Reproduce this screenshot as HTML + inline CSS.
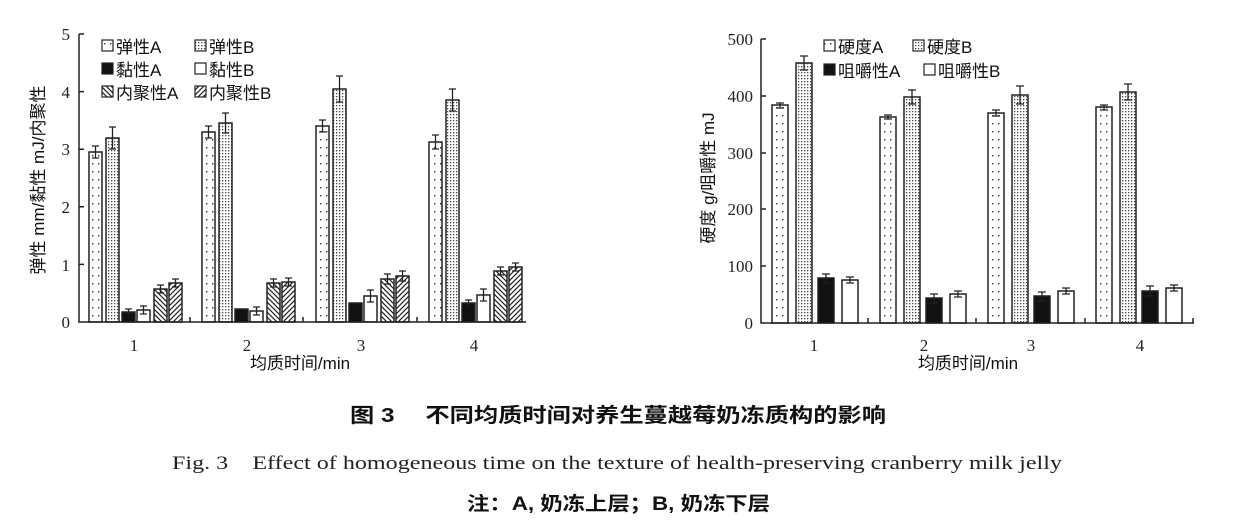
<!DOCTYPE html>
<html><head><meta charset="utf-8"><style>
body{margin:0;background:#fff;width:1242px;height:529px;overflow:hidden}
svg{display:block}
.t{font-family:"Liberation Serif","Noto Serif CJK SC",serif;fill:#222}
.c{font-family:"Liberation Sans","Noto Sans CJK SC",sans-serif;fill:#111}
</style></head><body>
<svg width="1242" height="529" viewBox="0 0 1242 529" xmlns="http://www.w3.org/2000/svg">
<defs>
<pattern id="sp" width="6" height="8" patternUnits="userSpaceOnUse"><rect width="6" height="8" fill="#fff"/><rect x="2" y="3" width="1.4" height="1.4" fill="#333"/></pattern>
<pattern id="dn" width="3" height="3" patternUnits="userSpaceOnUse"><rect width="3" height="3" fill="#fff"/><rect x="0" y="0" width="1.3" height="1.3" fill="#444"/></pattern>
<pattern id="hb" width="5" height="5" patternUnits="userSpaceOnUse"><rect width="5" height="5" fill="#fff"/><path d="M0,0L5,5M-1,4L1,6M4,-1L6,1" stroke="#222" stroke-width="1.2"/></pattern>
<pattern id="hf" width="5" height="5" patternUnits="userSpaceOnUse"><rect width="5" height="5" fill="#fff"/><path d="M0,5L5,0M-1,1L1,-1M4,6L6,4" stroke="#222" stroke-width="1.2"/></pattern>
</defs>
<g stroke="#222" stroke-width="1.5">
<rect x="89" y="152" width="13" height="170" fill="url(#sp)"/>
<rect x="106" y="138" width="13" height="184" fill="url(#dn)"/>
<rect x="122" y="312" width="13" height="10" fill="#111"/>
<rect x="137" y="310" width="13" height="12" fill="#fff"/>
<rect x="154" y="289" width="13" height="33" fill="url(#hb)"/>
<rect x="169" y="283" width="13" height="39" fill="url(#hf)"/>
<rect x="202" y="132" width="13" height="190" fill="url(#sp)"/>
<rect x="219" y="123" width="13" height="199" fill="url(#dn)"/>
<rect x="235" y="309" width="13" height="13" fill="#111"/>
<rect x="250" y="311" width="13" height="11" fill="#fff"/>
<rect x="267" y="283" width="13" height="39" fill="url(#hb)"/>
<rect x="282" y="282" width="13" height="40" fill="url(#hf)"/>
<rect x="316" y="126" width="13" height="196" fill="url(#sp)"/>
<rect x="333" y="89" width="13" height="233" fill="url(#dn)"/>
<rect x="349" y="303" width="13" height="19" fill="#111"/>
<rect x="364" y="296" width="13" height="26" fill="#fff"/>
<rect x="381" y="279" width="13" height="43" fill="url(#hb)"/>
<rect x="396" y="276" width="13" height="46" fill="url(#hf)"/>
<rect x="429" y="142" width="13" height="180" fill="url(#sp)"/>
<rect x="446" y="100" width="13" height="222" fill="url(#dn)"/>
<rect x="462" y="303" width="13" height="19" fill="#111"/>
<rect x="477" y="295" width="13" height="27" fill="#fff"/>
<rect x="494" y="271" width="13" height="51" fill="url(#hb)"/>
<rect x="509" y="267" width="13" height="55" fill="url(#hf)"/>
<rect x="772" y="105" width="16" height="218" fill="url(#sp)"/>
<rect x="796" y="63" width="16" height="260" fill="url(#dn)"/>
<rect x="818" y="278" width="16" height="45" fill="#111"/>
<rect x="842" y="280" width="16" height="43" fill="#fff"/>
<rect x="880" y="117" width="16" height="206" fill="url(#sp)"/>
<rect x="904" y="97" width="16" height="226" fill="url(#dn)"/>
<rect x="926" y="298" width="16" height="25" fill="#111"/>
<rect x="950" y="294" width="16" height="29" fill="#fff"/>
<rect x="988" y="113" width="16" height="210" fill="url(#sp)"/>
<rect x="1012" y="95" width="16" height="228" fill="url(#dn)"/>
<rect x="1034" y="296" width="16" height="27" fill="#111"/>
<rect x="1058" y="291" width="16" height="32" fill="#fff"/>
<rect x="1096" y="107" width="16" height="216" fill="url(#sp)"/>
<rect x="1120" y="92" width="16" height="231" fill="url(#dn)"/>
<rect x="1142" y="291" width="16" height="32" fill="#111"/>
<rect x="1166" y="288" width="16" height="35" fill="#fff"/>
</g>
<g stroke="#222" stroke-width="1.3" fill="none">
<path d="M95.5,146v12M92,146h7M92,158h7 M112.5,127v22M109,127h7M109,149h7 M128.5,309v6M125,309h7 M143.5,306v8M140,306h7M140,314h7 M160.5,285v8M157,285h7M157,293h7 M175.5,279v8M172,279h7M172,287h7"/>
<path d="M208.5,126v12M205,126h7M205,138h7 M225.5,113v20M222,113h7M222,133h7 M256.5,307v8M253,307h7M253,315h7 M273.5,279v8M270,279h7M270,287h7 M288.5,278v8M285,278h7M285,286h7"/>
<path d="M322.5,120v12M319,120h7M319,132h7 M339.5,76v26M336,76h7M336,102h7 M370.5,290v12M367,290h7M367,302h7 M387.5,274v10M384,274h7M384,284h7 M402.5,271v10M399,271h7M399,281h7"/>
<path d="M435.5,135v14M432,135h7M432,149h7 M452.5,89v22M449,89h7M449,111h7 M468.5,300v6M465,300h7 M483.5,289v12M480,289h7M480,301h7 M500.5,267v8M497,267h7M497,275h7 M515.5,263v8M512,263h7M512,271h7"/>
<path d="M780,103v5M776,103h8M776,108h8 M804,56v14M800,56h8M800,70h8 M826,274v9M822,274h8M822,283h8 M850,277v6M846,277h8M846,283h8"/>
<path d="M888,115v4M884,115h8M884,119h8 M912,90v14M908,90h8M908,104h8 M934,294v9M930,294h8M930,303h8 M958,291v6M954,291h8M954,297h8"/>
<path d="M996,110v6M992,110h8M992,116h8 M1020,86v18M1016,86h8M1016,104h8 M1042,292v9M1038,292h8M1038,301h8 M1066,288v6M1062,288h8M1062,294h8"/>
<path d="M1104,105v5M1100,105h8M1100,110h8 M1128,84v16M1124,84h8M1124,100h8 M1150,286v10M1146,286h8M1146,296h8 M1174,285v6M1170,285h8M1170,291h8"/>
</g>
<g stroke="#222" stroke-width="1.5" fill="none">
<path d="M79,34V322H526"/>
<path d="M79,34h5M79,91.6h5M79,149.2h5M79,206.8h5M79,264.4h5M190,322v-5M303,322v-5M417,322v-5"/>
<path d="M761,39V323H1194"/>
<path d="M761,39h5M761,96h5M761,153h5M761,209h5M761,266h5M868,323v-5M976,323v-5M1085,323v-5M1193,323v-5"/>
</g>
<g class="t" font-size="17" text-anchor="end" fill="#333">
<text x="70" y="40">5</text><text x="70" y="98">4</text><text x="70" y="155">3</text><text x="70" y="213">2</text><text x="70" y="271">1</text><text x="70" y="328">0</text>
<text x="753" y="45">500</text><text x="753" y="102">400</text><text x="753" y="159">300</text><text x="753" y="215">200</text><text x="753" y="272">100</text><text x="753" y="329">0</text>
</g>
<g class="t" font-size="17" text-anchor="middle">
<text x="134" y="351">1</text><text x="247" y="351">2</text><text x="361" y="351">3</text><text x="474" y="351">4</text>
<text x="814" y="351">1</text><text x="924" y="351">2</text><text x="1031" y="351">3</text><text x="1140" y="351">4</text>
</g>
<g class="c" font-size="17" text-anchor="middle">
<text x="300" y="369">均质时间/min</text>
<text x="968" y="369">均质时间/min</text>
<text transform="translate(44,180) rotate(-90)">弹性 mm/黏性 mJ/内聚性</text>
<text transform="translate(714,178) rotate(-90)">硬度 g/咀嚼性 mJ</text>
</g>
<g stroke="#222" stroke-width="1.2">
<rect x="102" y="40" width="11" height="11" fill="url(#sp)"/><rect x="195" y="40" width="11" height="11" fill="url(#dn)"/>
<rect x="102" y="63" width="11" height="11" fill="#111"/><rect x="195" y="63" width="11" height="11" fill="#fff"/>
<rect x="102" y="86" width="11" height="11" fill="url(#hb)"/><rect x="195" y="86" width="11" height="11" fill="url(#hf)"/>
<rect x="824" y="40" width="11" height="11" fill="url(#sp)"/><rect x="913" y="40" width="11" height="11" fill="url(#dn)"/>
<rect x="824" y="64" width="11" height="11" fill="#111"/><rect x="924" y="64" width="11" height="11" fill="#fff"/>
</g>
<g class="c" font-size="17">
<text x="116" y="53">弹性A</text><text x="209" y="53">弹性B</text>
<text x="116" y="76">黏性A</text><text x="209" y="76">黏性B</text>
<text x="116" y="99">内聚性A</text><text x="209" y="99">内聚性B</text>
<text x="838" y="53">硬度A</text><text x="927" y="53">硬度B</text>
<text x="838" y="77">咀嚼性A</text><text x="938" y="77">咀嚼性B</text>
</g>
<text class="c" x="350" y="422" font-size="20" font-weight="bold" textLength="536" lengthAdjust="spacingAndGlyphs">图 3　 不同均质时间对养生蔓越莓奶冻质构的影响</text>
<text class="t" x="172" y="469" font-size="19" textLength="890" lengthAdjust="spacingAndGlyphs" fill="#333">Fig. 3　Effect of homogeneous time on the texture of health-preserving cranberry milk jelly</text>
<text class="c" x="467" y="510" font-size="19" font-weight="bold" textLength="303" lengthAdjust="spacingAndGlyphs">注：A, 奶冻上层；B, 奶冻下层</text>
</svg>
</body></html>
